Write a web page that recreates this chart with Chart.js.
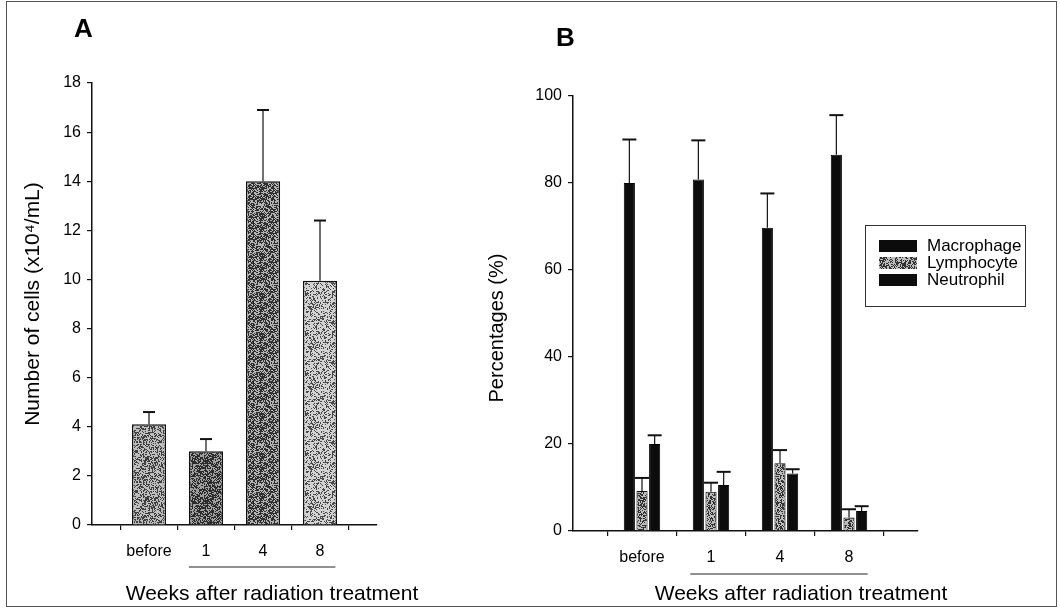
<!DOCTYPE html>
<html>
<head>
<meta charset="utf-8">
<script src="https://cdn.jsdelivr.net/npm/chart.js@4.4.1/dist/chart.umd.min.js"></script>
<style>
  html, body { margin: 0; padding: 0; background: #fff; }
  #wrap { position: relative; width: 1060px; height: 612px; overflow: hidden; }
  #wrap canvas { position: absolute; top: 0; }
  #cvA { left: 0; }
  #cvB { left: 480px; }
  #frame { position: absolute; left: 6px; top: 1px; width: 1051px; height: 606px; border: 1px solid #555; box-sizing: border-box; pointer-events: none; }
</style>
</head>
<body>
<div id="wrap">
  <canvas id="cvA" width="480" height="612" style="width:480px;height:612px"></canvas>
  <canvas id="cvB" width="580" height="612" style="width:580px;height:612px"></canvas>
  <div id="frame"></div>
</div>
<script>
// Data
const weeks = ['before', '1', '4', '8'];

// Panel A - total cell count (x10^4/mL), mean and upper SD
const cellCounts = [4.1, 3.0, 14.0, 9.95];
const cellCountErr = [0.5, 0.5, 2.9, 2.45];

// Panel B - differential counts (%)
const cellTypes = ['Macrophage', 'Lymphocyte', 'Neutrophil'];
const macrophagePct = [80.0, 80.8, 69.7, 86.5];
const macrophageErr = [10.0, 9.0, 7.9, 9.1];
const lymphocytePct = [9.2, 9.0, 15.6, 3.1];
const lymphocyteErr = [3.0, 2.1, 3.0, 1.9];
const neutrophilPct = [20.0, 10.6, 13.2, 4.6];
const neutrophilErr = [2.0, 3.0, 1.0, 1.1];

const FONT = "'Liberation Sans', Arial, sans-serif";

// empty slot on each side of the categories, like the original axis
function pad(arr, fill) {
  return [fill, ...arr, fill];
}

// scanned-looking grey stipple fill
function stipple(base, dark, density, seed) {
  const c = document.createElement('canvas');
  c.width = 40;
  c.height = 40;
  const g = c.getContext('2d');
  g.fillStyle = base;
  g.fillRect(0, 0, 40, 40);
  let s = seed;
  for (let i = 0; i < 1600; i++) {
    s = (s * 1103515245 + 12345) & 0x7fffffff;
    if ((s >> 8) % 100 < density) {
      g.fillStyle = dark;
      g.fillRect(i % 40, Math.floor(i / 40), 1, 1);
    }
  }
  return g.createPattern(c, 'repeat');
}

const errorBars = {
  id: 'errorBars',
  afterDatasetsDraw(chart, args, opts) {
    const ctx = chart.ctx;
    const y = chart.scales.y;
    ctx.save();
    ctx.strokeStyle = '#111';
    opts.errors.forEach((errs, di) => {
      const meta = chart.getDatasetMeta(di);
      const vals = opts.values[di];
      errs.forEach((e, i) => {
        const bar = meta.data[i + 1];
        const top = y.getPixelForValue(vals[i] + e);
        const base = y.getPixelForValue(vals[i]);
        ctx.lineWidth = 1.2;
        ctx.beginPath();
        ctx.moveTo(bar.x, base);
        ctx.lineTo(bar.x, top);
        ctx.stroke();
        ctx.lineWidth = 2;
        ctx.beginPath();
        ctx.moveTo(bar.x - opts.cap / 2, top);
        ctx.lineTo(bar.x + opts.cap / 2, top);
        ctx.stroke();
      });
    });
    ctx.restore();
  }
};

const decorations = {
  id: 'decorations',
  afterDraw(chart, args, o) {
    const ctx = chart.ctx;
    const x = chart.scales.x;
    ctx.save();
    ctx.fillStyle = '#000';

    ctx.font = 'bold 26px ' + FONT;
    ctx.textAlign = 'left';
    ctx.textBaseline = 'alphabetic';
    ctx.fillText(o.letter, o.letterX, o.letterY);

    ctx.font = '21px ' + FONT;
    ctx.textAlign = 'center';
    ctx.fillText('Weeks after radiation treatment', o.xTitleX, o.xTitleY);

    // y axis title
    ctx.translate(o.yTitleX, o.yTitleY);
    ctx.rotate(-Math.PI / 2);
    ctx.font = o.yTitleFont + 'px ' + FONT;
    ctx.textBaseline = 'middle';
    ctx.fillText(o.yTitle, 0, 0);
    ctx.setTransform(1, 0, 0, 1, 0, 0);

    // line under the post-treatment weeks
    const step = x.getPixelForValue(2) - x.getPixelForValue(1);
    ctx.strokeStyle = '#222';
    ctx.lineWidth = 1.2;
    ctx.beginPath();
    ctx.moveTo(x.getPixelForValue(2) - step * 0.3, o.lineY);
    ctx.lineTo(x.getPixelForValue(4) + step * 0.27, o.lineY);
    ctx.stroke();
    ctx.restore();
  }
};

const boxLegend = {
  id: 'boxLegend',
  afterDraw(chart, args, o) {
    const ctx = chart.ctx;
    ctx.save();
    ctx.fillStyle = '#fff';
    ctx.fillRect(o.left, o.top, o.width, o.height);
    ctx.strokeStyle = '#333';
    ctx.lineWidth = 1;
    ctx.strokeRect(o.left + 0.5, o.top + 0.5, o.width, o.height);
    ctx.font = '17px ' + FONT;
    ctx.textBaseline = 'middle';
    chart.data.datasets.forEach((ds, i) => {
      const cy = o.firstRow + i * o.rowGap;
      ctx.fillStyle = ds.backgroundColor;
      ctx.fillRect(o.swatchX, cy - 6, 38, 12);
      ctx.fillStyle = '#000';
      ctx.fillText(ds.label, o.textX, cy);
    });
    ctx.restore();
  }
};

function axisStyle() {
  return {
    grid: { drawOnChartArea: false, drawTicks: true, tickLength: 5, color: '#111', lineWidth: 1.2 },
    border: { display: true, color: '#111', width: 1.5 },
    ticks: { color: '#000', font: { family: FONT, size: 16 }, padding: 6 }
  };
}

// ---------- Panel A ----------
const fillsA = [
  stipple('#bdbdbd', '#404040', 40, 11),
  stipple('#a0a0a0', '#2c2c2c', 55, 23),
  stipple('#b2b2b2', '#303030', 50, 37),
  stipple('#d2d2d2', '#4a4a4a', 34, 51)
];

const axA = axisStyle();
const axAy = axisStyle();

new Chart(document.getElementById('cvA'), {
  type: 'bar',
  data: {
    labels: pad(weeks, ''),
    datasets: [{
      label: 'Cells',
      data: pad(cellCounts, null),
      backgroundColor: pad(fillsA, '#fff'),
      borderColor: '#111',
      borderWidth: 1.5,
      barPercentage: 0.6,
      categoryPercentage: 1
    }]
  },
  options: {
    responsive: false,
    animation: false,
    events: [],
    layout: { padding: { left: 10, right: 103, top: 83, bottom: 47 } },
    plugins: {
      legend: { display: false },
      tooltip: { enabled: false },
      errorBars: { values: [cellCounts], errors: [cellCountErr], cap: 12 },
      decorations: {
        letter: 'A', letterX: 74, letterY: 37,
        xTitleX: 272, xTitleY: 600, lineY: 567,
        yTitle: 'Number of cells (x10⁴/mL)', yTitleFont: 21, yTitleX: 33, yTitleY: 304
      }
    },
    scales: {
      x: {
        offset: false,
        grid: axA.grid,
        border: axA.border,
        ticks: Object.assign({}, axA.ticks, { padding: 12, autoSkip: false, maxRotation: 0 }),
        afterFit(s) { s.height = 40; }
      },
      y: {
        min: 0,
        max: 18,
        grid: axAy.grid,
        border: axAy.border,
        ticks: Object.assign({}, axAy.ticks, { stepSize: 2 }),
        afterFit(s) { s.width = 82; }
      }
    }
  },
  plugins: [errorBars, decorations]
});

// ---------- Panel B ----------
const lymphFill = stipple('#bcbcbc', '#333333', 45, 77);
const axB = axisStyle();
const axBy = axisStyle();

new Chart(document.getElementById('cvB'), {
  type: 'bar',
  data: {
    labels: pad(weeks, ''),
    datasets: [
      { label: cellTypes[0], data: pad(macrophagePct, null), backgroundColor: '#0c0c0c', borderColor: '#000', borderWidth: 1 },
      { label: cellTypes[1], data: pad(lymphocytePct, null), backgroundColor: lymphFill, borderColor: '#111', borderWidth: 1 },
      { label: cellTypes[2], data: pad(neutrophilPct, null), backgroundColor: '#0c0c0c', borderColor: '#000', borderWidth: 1 }
    ]
  },
  options: {
    responsive: false,
    animation: false,
    events: [],
    datasets: { bar: { barPercentage: 0.88, categoryPercentage: 0.55 } },
    layout: { padding: { left: 10, right: 142, top: 96, bottom: 41 } },
    plugins: {
      legend: { display: false },
      tooltip: { enabled: false },
      errorBars: {
        values: [macrophagePct, lymphocytePct, neutrophilPct],
        errors: [macrophageErr, lymphocyteErr, neutrophilErr],
        cap: 14
      },
      decorations: {
        letter: 'B', letterX: 76, letterY: 46,
        xTitleX: 321, xTitleY: 600, lineY: 574,
        yTitle: 'Percentages (%)', yTitleFont: 20, yTitleX: 17, yTitleY: 328
      },
      boxLegend: {
        left: 385, top: 225, width: 160, height: 81,
        swatchX: 399, textX: 447, firstRow: 246, rowGap: 17
      }
    },
    scales: {
      x: {
        offset: false,
        grid: axB.grid,
        border: axB.border,
        ticks: Object.assign({}, axB.ticks, { padding: 12, autoSkip: false, maxRotation: 0 }),
        afterFit(s) { s.height = 40; }
      },
      y: {
        min: 0,
        max: 100,
        grid: axBy.grid,
        border: axBy.border,
        ticks: Object.assign({}, axBy.ticks, { stepSize: 20 }),
        afterFit(s) { s.width = 83; }
      }
    }
  },
  plugins: [errorBars, decorations, boxLegend]
});
</script>
</body>
</html>
